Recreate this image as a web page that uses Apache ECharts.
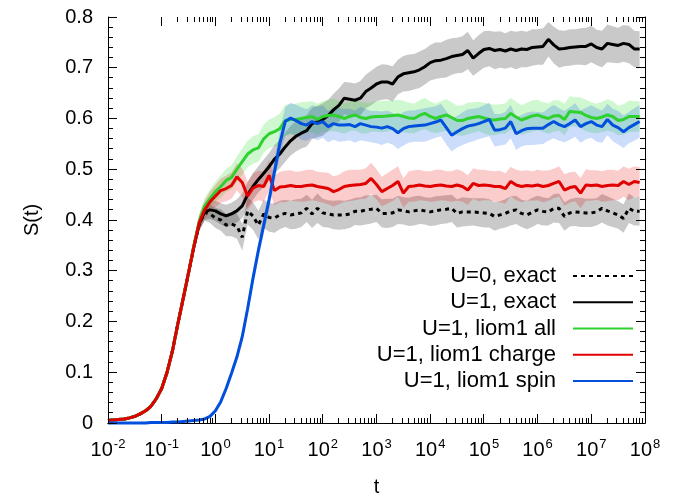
<!DOCTYPE html>
<html>
<head>
<meta charset="utf-8">
<style>
  html, body { margin: 0; padding: 0; background: #fff; }
  #chart { width: 678px; height: 495px; }
</style>
<script src="https://cdn.jsdelivr.net/npm/echarts@6/dist/echarts.min.js"></script>
</head>
<body>
<div id="chart"></div>
<script>
// log10(t) of the sample times, 10 per decade
const tExp = [
  -2.0, -1.9, -1.8, -1.7, -1.6, -1.5, -1.4, -1.3, -1.2, -1.1,
  -1.0, -0.9, -0.8, -0.7, -0.6, -0.5, -0.4, -0.3, -0.2, -0.1,
  0.0, 0.1, 0.2, 0.3, 0.4, 0.5, 0.6, 0.7, 0.8, 0.9,
  1.0, 1.1, 1.2, 1.3, 1.4, 1.5, 1.6, 1.7, 1.8, 1.9,
  2.0, 2.1, 2.2, 2.3, 2.4, 2.5, 2.6, 2.7, 2.8, 2.9,
  3.0, 3.1, 3.2, 3.3, 3.4, 3.5, 3.6, 3.7, 3.8, 3.9,
  4.0, 4.1, 4.2, 4.3, 4.4, 4.5, 4.6, 4.7, 4.8, 4.9,
  5.0, 5.1, 5.2, 5.3, 5.4, 5.5, 5.6, 5.7, 5.8, 5.9,
  6.0, 6.1, 6.2, 6.3, 6.4, 6.5, 6.6, 6.7, 6.8, 6.9,
  7.0, 7.1, 7.2, 7.3, 7.4, 7.5, 7.6, 7.7, 7.8, 7.9
];

// U=0, exact
const sU0 = [
  0.005, 0.006, 0.007, 0.008, 0.010, 0.013, 0.018, 0.024, 0.033, 0.048,
  0.068, 0.100, 0.142, 0.195, 0.245, 0.296, 0.348, 0.393, 0.415, 0.412,
  0.404, 0.400, 0.390, 0.392, 0.388, 0.366, 0.418, 0.408, 0.390, 0.412,
  0.405, 0.404, 0.410, 0.413, 0.410, 0.412, 0.414, 0.423, 0.412, 0.423,
  0.414, 0.412, 0.410, 0.410, 0.410, 0.412, 0.417, 0.417, 0.420, 0.421,
  0.423, 0.413, 0.413, 0.414, 0.420, 0.418, 0.416, 0.418, 0.420, 0.418,
  0.416, 0.418, 0.420, 0.421, 0.423, 0.413, 0.416, 0.416, 0.416, 0.415,
  0.414, 0.413, 0.407, 0.410, 0.413, 0.418, 0.420, 0.413, 0.410, 0.415,
  0.420, 0.417, 0.416, 0.423, 0.423, 0.407, 0.414, 0.416, 0.415, 0.414,
  0.414, 0.416, 0.423, 0.418, 0.414, 0.410, 0.403, 0.423, 0.417, 0.417
];
const eU0 = [
  0.002, 0.002, 0.002, 0.002, 0.002, 0.002, 0.003, 0.003, 0.003, 0.004,
  0.004, 0.005, 0.006, 0.007, 0.008, 0.010, 0.012, 0.014, 0.016, 0.018,
  0.020, 0.021, 0.022, 0.024, 0.025, 0.026, 0.027, 0.027, 0.028, 0.028,
  0.028, 0.029, 0.028, 0.027, 0.028, 0.029, 0.028, 0.027, 0.028, 0.029,
  0.028, 0.027, 0.028, 0.029, 0.028, 0.028, 0.027, 0.028, 0.029, 0.028,
  0.027, 0.028, 0.029, 0.028, 0.028, 0.027, 0.028, 0.029, 0.028, 0.027,
  0.028, 0.029, 0.028, 0.028, 0.027, 0.028, 0.029, 0.028, 0.027, 0.028,
  0.029, 0.028, 0.028, 0.027, 0.028, 0.029, 0.028, 0.027, 0.028, 0.029,
  0.028, 0.028, 0.027, 0.028, 0.029, 0.028, 0.027, 0.028, 0.029, 0.028,
  0.028, 0.027, 0.028, 0.029, 0.028, 0.027, 0.028, 0.029, 0.028, 0.028
];

// U=1, exact
const sU1 = [
  0.005, 0.006, 0.007, 0.008, 0.010, 0.013, 0.018, 0.024, 0.033, 0.048,
  0.068, 0.100, 0.142, 0.195, 0.245, 0.296, 0.348, 0.393, 0.416, 0.420,
  0.418, 0.412, 0.408, 0.412, 0.418, 0.428, 0.450, 0.466, 0.480, 0.492,
  0.505, 0.520, 0.530, 0.544, 0.556, 0.565, 0.571, 0.576, 0.590, 0.594,
  0.598, 0.606, 0.617, 0.626, 0.640, 0.638, 0.636, 0.640, 0.653, 0.660,
  0.668, 0.672, 0.672, 0.668, 0.682, 0.688, 0.690, 0.692, 0.696, 0.702,
  0.710, 0.714, 0.715, 0.718, 0.722, 0.724, 0.726, 0.734, 0.719, 0.728,
  0.736, 0.738, 0.734, 0.736, 0.733, 0.737, 0.734, 0.737, 0.736, 0.740,
  0.741, 0.742, 0.756, 0.745, 0.737, 0.738, 0.740, 0.741, 0.742, 0.742,
  0.747, 0.740, 0.737, 0.748, 0.746, 0.744, 0.748, 0.746, 0.737, 0.737
];
const eU1 = [
  0.002, 0.002, 0.002, 0.002, 0.002, 0.002, 0.003, 0.003, 0.003, 0.004,
  0.004, 0.005, 0.006, 0.007, 0.008, 0.010, 0.012, 0.014, 0.016, 0.018,
  0.020, 0.021, 0.022, 0.022, 0.023, 0.024, 0.025, 0.026, 0.026, 0.027,
  0.027, 0.028, 0.028, 0.029, 0.029, 0.030, 0.030, 0.031, 0.031, 0.031,
  0.032, 0.031, 0.032, 0.033, 0.032, 0.033, 0.033, 0.034, 0.033, 0.034,
  0.034, 0.035, 0.034, 0.035, 0.034, 0.035, 0.036, 0.035, 0.036, 0.035,
  0.035, 0.036, 0.035, 0.037, 0.036, 0.035, 0.036, 0.037, 0.035, 0.036,
  0.036, 0.035, 0.037, 0.036, 0.035, 0.036, 0.037, 0.036, 0.035, 0.036,
  0.035, 0.036, 0.034, 0.036, 0.037, 0.035, 0.036, 0.035, 0.036, 0.037,
  0.036, 0.035, 0.036, 0.037, 0.036, 0.035, 0.036, 0.037, 0.036, 0.035
];

// U=1, liom1 all
const sAll = [
  0.005, 0.006, 0.007, 0.008, 0.010, 0.013, 0.018, 0.024, 0.033, 0.048,
  0.068, 0.100, 0.142, 0.195, 0.245, 0.296, 0.350, 0.398, 0.428, 0.442,
  0.456, 0.466, 0.478, 0.484, 0.500, 0.515, 0.530, 0.538, 0.542, 0.560,
  0.570, 0.574, 0.580, 0.596, 0.598, 0.598, 0.600, 0.602, 0.604, 0.598,
  0.604, 0.606, 0.607, 0.604, 0.600, 0.604, 0.607, 0.602, 0.600, 0.603,
  0.604, 0.604, 0.605, 0.606, 0.607, 0.604, 0.601, 0.600, 0.606, 0.610,
  0.604, 0.600, 0.604, 0.607, 0.602, 0.596, 0.596, 0.600, 0.602, 0.604,
  0.601, 0.598, 0.597, 0.599, 0.600, 0.610, 0.603, 0.597, 0.601, 0.605,
  0.607, 0.603, 0.600, 0.605, 0.606, 0.598, 0.614, 0.613, 0.612, 0.606,
  0.602, 0.600, 0.603, 0.607, 0.604, 0.596, 0.598, 0.604, 0.604, 0.604
];
const eAll = [
  0.002, 0.002, 0.002, 0.002, 0.002, 0.002, 0.003, 0.003, 0.003, 0.004,
  0.004, 0.005, 0.006, 0.007, 0.008, 0.010, 0.012, 0.014, 0.016, 0.018,
  0.020, 0.022, 0.023, 0.024, 0.025, 0.026, 0.026, 0.027, 0.027, 0.028,
  0.028, 0.029, 0.030, 0.031, 0.030, 0.031, 0.032, 0.031, 0.030, 0.031,
  0.030, 0.031, 0.032, 0.031, 0.030, 0.029, 0.030, 0.031, 0.030, 0.029,
  0.030, 0.031, 0.030, 0.029, 0.030, 0.031, 0.030, 0.029, 0.030, 0.031,
  0.030, 0.029, 0.030, 0.031, 0.030, 0.029, 0.030, 0.031, 0.030, 0.029,
  0.030, 0.031, 0.030, 0.029, 0.030, 0.031, 0.030, 0.029, 0.030, 0.031,
  0.030, 0.029, 0.030, 0.031, 0.030, 0.031, 0.030, 0.029, 0.030, 0.031,
  0.030, 0.029, 0.030, 0.031, 0.030, 0.029, 0.030, 0.031, 0.030, 0.030
];

// U=1, liom1 charge
const sCharge = [
  0.005, 0.006, 0.007, 0.008, 0.010, 0.013, 0.018, 0.024, 0.033, 0.048,
  0.068, 0.100, 0.142, 0.195, 0.245, 0.296, 0.348, 0.395, 0.420, 0.436,
  0.447, 0.458, 0.462, 0.468, 0.485, 0.474, 0.447, 0.463, 0.468, 0.466,
  0.488, 0.458, 0.465, 0.466, 0.468, 0.466, 0.466, 0.468, 0.469, 0.466,
  0.464, 0.462, 0.456, 0.460, 0.466, 0.468, 0.469, 0.470, 0.472, 0.482,
  0.470, 0.456, 0.462, 0.468, 0.476, 0.453, 0.466, 0.467, 0.469, 0.467,
  0.466, 0.468, 0.469, 0.467, 0.466, 0.469, 0.466, 0.459, 0.472, 0.468,
  0.469, 0.468, 0.466, 0.466, 0.462, 0.476, 0.469, 0.466, 0.468, 0.467,
  0.469, 0.466, 0.468, 0.472, 0.476, 0.459, 0.464, 0.466, 0.453, 0.469,
  0.468, 0.469, 0.466, 0.468, 0.469, 0.468, 0.476, 0.470, 0.476, 0.474
];
const eCharge = [
  0.002, 0.002, 0.002, 0.002, 0.002, 0.003, 0.003, 0.003, 0.004, 0.004,
  0.005, 0.006, 0.007, 0.008, 0.010, 0.012, 0.014, 0.016, 0.018, 0.020,
  0.022, 0.024, 0.025, 0.026, 0.027, 0.028, 0.028, 0.029, 0.029, 0.030,
  0.030, 0.029, 0.030, 0.031, 0.030, 0.029, 0.030, 0.031, 0.030, 0.029,
  0.030, 0.031, 0.030, 0.029, 0.030, 0.031, 0.030, 0.029, 0.030, 0.031,
  0.030, 0.029, 0.030, 0.031, 0.030, 0.029, 0.030, 0.031, 0.030, 0.029,
  0.030, 0.031, 0.030, 0.029, 0.030, 0.031, 0.030, 0.029, 0.030, 0.031,
  0.030, 0.029, 0.030, 0.031, 0.030, 0.029, 0.030, 0.031, 0.030, 0.029,
  0.030, 0.031, 0.030, 0.029, 0.030, 0.031, 0.030, 0.029, 0.030, 0.031,
  0.030, 0.029, 0.030, 0.031, 0.030, 0.029, 0.030, 0.031, 0.030, 0.030
];

// U=1, liom1 spin
const sSpin = [
  0.000, 0.000, 0.000, 0.000, 0.000, 0.000, 0.000, 0.000, 0.001, 0.001,
  0.001, 0.001, 0.002, 0.002, 0.003, 0.004, 0.005, 0.006, 0.008, 0.013,
  0.024, 0.042, 0.068, 0.098, 0.130, 0.170, 0.225, 0.285, 0.340, 0.390,
  0.440, 0.495, 0.551, 0.594, 0.601, 0.596, 0.590, 0.587, 0.594, 0.590,
  0.594, 0.584, 0.590, 0.587, 0.587, 0.588, 0.584, 0.590, 0.587, 0.584,
  0.583, 0.581, 0.584, 0.580, 0.572, 0.580, 0.584, 0.585, 0.586, 0.587,
  0.590, 0.593, 0.597, 0.582, 0.567, 0.574, 0.580, 0.585, 0.587, 0.590,
  0.594, 0.598, 0.577, 0.578, 0.581, 0.594, 0.570, 0.576, 0.580, 0.581,
  0.581, 0.581, 0.588, 0.594, 0.588, 0.584, 0.590, 0.597, 0.584, 0.590,
  0.594, 0.587, 0.584, 0.598, 0.587, 0.582, 0.574, 0.582, 0.588, 0.594
];
const eSpin = [
  0.000, 0.000, 0.000, 0.000, 0.000, 0.000, 0.000, 0.000, 0.000, 0.000,
  0.000, 0.000, 0.001, 0.001, 0.001, 0.001, 0.001, 0.002, 0.002, 0.002,
  0.003, 0.004, 0.005, 0.006, 0.008, 0.010, 0.012, 0.014, 0.016, 0.018,
  0.020, 0.022, 0.025, 0.028, 0.030, 0.031, 0.032, 0.031, 0.032, 0.033,
  0.032, 0.031, 0.032, 0.033, 0.032, 0.031, 0.032, 0.033, 0.032, 0.031,
  0.032, 0.033, 0.032, 0.031, 0.032, 0.033, 0.032, 0.031, 0.032, 0.033,
  0.032, 0.031, 0.032, 0.033, 0.032, 0.031, 0.032, 0.033, 0.032, 0.031,
  0.032, 0.033, 0.032, 0.031, 0.032, 0.033, 0.032, 0.031, 0.032, 0.033,
  0.032, 0.031, 0.032, 0.033, 0.032, 0.031, 0.032, 0.033, 0.032, 0.031,
  0.032, 0.033, 0.032, 0.031, 0.032, 0.033, 0.032, 0.031, 0.032, 0.032
];

const seriesNames = ['U=0, exact', 'U=1, exact', 'U=1, liom1 all', 'U=1, liom1 charge', 'U=1, liom1 spin'];
const seriesValues = [sU0, sU1, sAll, sCharge, sSpin];
const seriesErrors = [eU0, eU1, eAll, eCharge, eSpin];
const lineColors = ['#000000', '#000000', '#2fd12f', '#e00000', '#0050dd'];
const bandColors = ['rgba(0,0,0,0.21)', 'rgba(0,0,0,0.21)', 'rgba(40,225,40,0.22)',
  'rgba(235,0,0,0.2)', 'rgba(0,80,235,0.2)'];
const lineDash = [[4, 4], 'solid', 'solid', 'solid', 'solid'];

const yTicks = [0, 0.1, 0.2, 0.3, 0.4, 0.5, 0.6, 0.7, 0.8];
const xDecades = [-2, -1, 0, 1, 2, 3, 4, 5, 6, 7, 8];
const xMin = 1e-2, xMax = 1e8;

const FONT = "'Liberation Sans', Arial, Helvetica, sans-serif";

// tick positions (all four sides, gnuplot style, pointing inward)
const xMajorTicks = xDecades.map(function (k) { return Math.pow(10, k); });
const xMinorTicks = [];
xDecades.slice(1, -1).forEach(function (k) {
  for (let m = 2; m <= 9; m++) xMinorTicks.push(m * Math.pow(10, k));
});
const yMinorTicks = [];
yTicks.slice(0, -1).forEach(function (v) {
  for (let m = 1; m <= 4; m++) yMinorTicks.push(+(v + m * 0.02).toFixed(2));
});

const tVals = tExp.map(function (e) { return Math.pow(10, e); });

const series = [];
// error bands: one polygon per curve, built from the axis coordinates
seriesValues.forEach(function (vals, i) {
  const err = seriesErrors[i];
  const pts = tVals.map(function (t, j) { return [t, vals[j] - err[j], vals[j] + err[j]]; });
  series.push({
    type: 'custom', name: 'band' + i,
    data: pts,
    encode: { x: 0, y: [1, 2] },
    renderItem: function (params, api) {
      if (params.dataIndex !== 0) return null;
      const upper = pts.map(function (p) { return api.coord([p[0], p[2]]); });
      const lower = pts.map(function (p) { return api.coord([p[0], p[1]]); }).reverse();
      return {
        type: 'polygon',
        shape: { points: upper.concat(lower) },
        style: { fill: bandColors[i] }
      };
    },
    silent: true, z: 1, clip: false
  });
});
// lines
seriesValues.forEach(function (vals, i) {
  series.push({
    type: 'line', name: seriesNames[i],
    data: tVals.map(function (t, j) { return [t, vals[j]]; }),
    symbol: 'none',
    lineStyle: { color: lineColors[i], width: 3, type: lineDash[i], cap: 'butt' },
    itemStyle: { color: lineColors[i] },
    z: 3, clip: false
  });
});

// tick marks: short strokes starting on the axis point, going inward by (dx, dy)
function tickSeries(name, data, dx, dy) {
  return {
    type: 'custom', name: name, data: data,
    encode: { x: 0, y: 1 },
    renderItem: function (params, api) {
      const p = api.coord([api.value(0), api.value(1)]);
      let x = p[0], y = p[1];
      if (dx === 0) x = Math.round(x - 0.5) + 0.5;
      if (dy === 0) y = Math.round(y - 0.5) + 0.5;
      return {
        type: 'line',
        shape: { x1: x, y1: y, x2: x + dx, y2: y + dy },
        style: { stroke: '#000', lineWidth: 1 }
      };
    },
    silent: true, z: 5, clip: false
  };
}
series.push(tickSeries('xmaj-b', xMajorTicks.map(function (v) { return [v, 0]; }), 0, -9));
series.push(tickSeries('xmaj-t', xMajorTicks.map(function (v) { return [v, 0.8]; }), 0, 9));
series.push(tickSeries('xmin-b', xMinorTicks.map(function (v) { return [v, 0]; }), 0, -5));
series.push(tickSeries('xmin-t', xMinorTicks.map(function (v) { return [v, 0.8]; }), 0, 5));
series.push(tickSeries('ymaj-l', yTicks.map(function (v) { return [xMin, v]; }), 9, 0));
series.push(tickSeries('ymaj-r', yTicks.map(function (v) { return [xMax, v]; }), -9, 0));
series.push(tickSeries('ymin-l', yMinorTicks.map(function (v) { return [xMin, v]; }), 5, 0));
series.push(tickSeries('ymin-r', yMinorTicks.map(function (v) { return [xMax, v]; }), -5, 0));

const axisLineStyle = { show: true, lineStyle: { color: '#000', width: 1 } };

const option = {
  animation: false,
  backgroundColor: '#fff',
  grid: { left: 108, right: 33, top: 17, bottom: 72, containLabel: false, outerBoundsMode: 'none' },
  legend: {
    data: seriesNames,
    orient: 'vertical',
    right: 39, top: 260,
    align: 'right',
    itemWidth: 60, itemHeight: 20, itemGap: 4.25,
    itemStyle: { opacity: 0 },
    textStyle: { fontFamily: FONT, fontSize: 22, color: '#000', lineHeight: 20, padding: [0, 12, 0, 0] },
    selectedMode: false
  },
  xAxis: [{
    type: 'log', logBase: 10, min: xMin, max: xMax, interval: 1,
    name: 't', nameLocation: 'middle', nameGap: 54,
    nameTextStyle: { fontFamily: FONT, fontSize: 20, color: '#000' },
    axisLine: axisLineStyle,
    axisTick: { show: false },
    splitLine: { show: false },
    axisLabel: {
      margin: 15, color: '#000', hideOverlap: false,
      showMinLabel: true, showMaxLabel: true,
      formatter: function (v) {
        return '{b|10}{s|' + Math.round(Math.log10(v)) + '}';
      },
      rich: {
        b: { fontFamily: FONT, fontSize: 20, lineHeight: 24, color: '#000' },
        s: { fontFamily: FONT, fontSize: 13, lineHeight: 24, verticalAlign: 'top', padding: [0, 0, 0, 1], color: '#000' }
      }
    }
  }, {
    type: 'log', logBase: 10, min: xMin, max: xMax, interval: 1, position: 'top',
    axisLine: axisLineStyle,
    axisTick: { show: false },
    axisLabel: { show: false }, splitLine: { show: false }
  }],
  yAxis: [{
    type: 'value', min: yTicks[0], max: yTicks[yTicks.length - 1], interval: 0.1,
    name: 'S(t)', nameLocation: 'middle', nameGap: 66,
    nameTextStyle: { fontFamily: FONT, fontSize: 20, color: '#000' },
    axisLine: axisLineStyle,
    axisTick: { show: false },
    splitLine: { show: false },
    axisLabel: {
      margin: 15, color: '#000', fontFamily: FONT, fontSize: 20,
      formatter: function (v) { return v === 0 ? '0' : v.toFixed(1); }
    }
  }, {
    type: 'value', min: yTicks[0], max: yTicks[yTicks.length - 1], interval: 0.1, position: 'right',
    axisLine: axisLineStyle,
    axisTick: { show: false },
    splitLine: { show: false },
    axisLabel: { show: false }
  }],
  series: series
};

const chart = echarts.init(document.getElementById('chart'));
chart.setOption(option);
</script>
</body>
</html>
